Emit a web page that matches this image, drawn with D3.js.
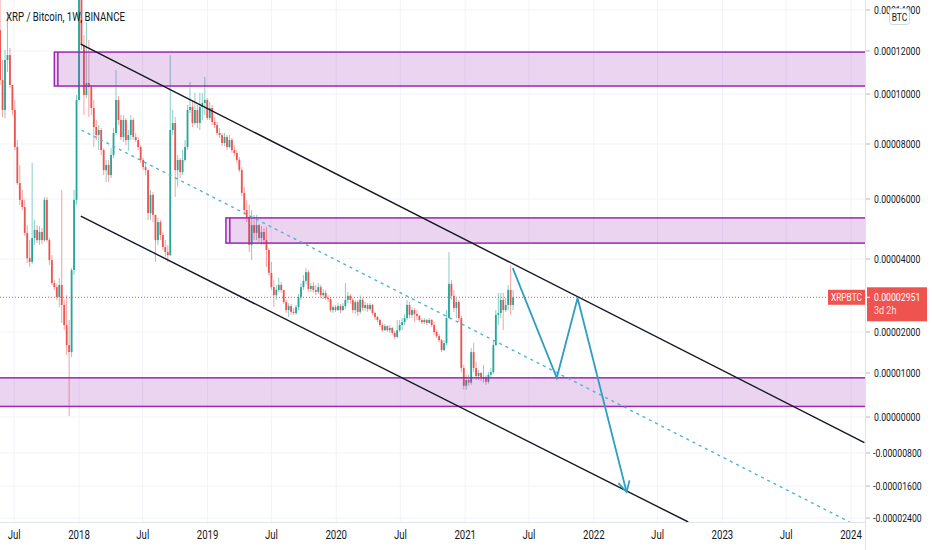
<!DOCTYPE html>
<html>
<head>
<meta charset="utf-8">
<script src="https://cdn.jsdelivr.net/npm/d3@7"></script>
<style>
  body { margin: 0; background: #fff; }
  svg text { font-family: Roboto, "Liberation Sans", sans-serif; }
</style>
</head>
<body>
<div id="chart"></div>
<script>
const W = 932, H = 550, plotR = 865, plotB = 522;

// XRP/BTC weekly candles, prices in satoshi (1e-8 BTC); open = previous close
const firstWeek = "2017-05-22";
const firstOpen = 13020;
const closes = [
  10650, 9360, 11580, 11810, 10420, 9360, 7890, 6580, 5970, 5730,
  4870, 4030, 3920, 4700, 4970, 4630, 4900, 4630, 5970, 4630,
  3970, 3340, 3230, 2960, 3290, 2740, 2190, 1680, 1510, 3700,
  5970, 9760, 15500, 12290, 9960, 10510, 10330, 9440, 8680, 8360,
  8560, 7780, 7050, 7240, 6870, 7600, 8440, 9760, 8960, 8280,
  8960, 8160, 8360, 8960, 8280, 8160, 7890, 7420, 7160, 7050,
  5530, 6150, 5470, 4630, 5230, 4800, 4400, 4230, 4130, 8560,
  8840, 7050, 7420, 6980, 7420, 7890, 9360, 9480, 8840, 9360,
  8840, 9480, 9640, 9760, 9040, 9440, 8880, 8760, 8440, 8360,
  8040, 8280, 7890, 8160, 7780, 7670, 7420, 7050, 6220, 5630,
  5400, 4470, 5130, 4870, 5130, 4700, 4900, 4630, 4300, 3620,
  3230, 3010, 3150, 3290, 3150, 2820, 2600, 2710, 2550, 2520,
  2680, 2960, 3230, 3400, 3640, 3180, 3260, 3150, 3100, 3230,
  3010, 3070, 2930, 2900, 2600, 2680, 2600, 2710, 2600, 2710,
  2880, 2990, 2880, 2600, 2820, 2550, 2880, 2660, 2740, 2630,
  2740, 2520, 2410, 2330, 2190, 2050, 2160, 2050, 2110, 1980,
  1880, 2050, 2190, 2270, 2380, 2740, 2470, 2600, 2490, 2440,
  2330, 2270, 2330, 2250, 2330, 2190, 2000, 1900, 1800, 1560,
  1730, 2380, 3320, 2990, 2660, 2820, 2380, 1120, 710, 840,
  780, 1510, 1120, 930, 1000, 890, 890, 800, 960, 1020,
  1680, 2470, 2520, 2880, 2600, 2740, 3150, 2740, 2951
];
const highs = [
  14490, 11580, 12050, 13850, 12150, 10420, 9760, 8160, 7240, 6330,
  5970, 5130, 4630, 7310, 5300, 5130, 5100, 5030, 6070, 6070,
  4700, 4130, 3420, 3320, 3480, 6330, 2880, 3010, 2330, 3750,
  6330, 9960, 22000, 19000, 12780, 13410, 12540, 10420, 9760, 8960,
  8760, 8640, 7850, 7420, 7420, 7850, 8640, 11120, 9920, 9160,
  9160, 9040, 8560, 9160, 9040, 8440, 8280, 7960, 7490, 7310,
  7050, 6330, 6250, 5300, 5370, 5300, 4900, 4630, 4470, 11810,
  9360, 9080, 7600, 7490, 7780, 8160, 9560, 10560, 9760, 10050,
  9560, 10050, 10050, 10790, 9840, 9680, 9560, 9080, 8880, 8640,
  8440, 8440, 8360, 8360, 8240, 7960, 7780, 7530, 7160, 6440,
  5970, 5800, 5630, 5470, 5470, 5170, 5100, 5030, 5070, 4370,
  3920, 3420, 3290, 3480, 3370, 3150, 2880, 2790, 2770, 2660,
  2740, 3040, 3340, 3560, 3750, 3700, 3340, 3370, 3290, 3340,
  3290, 3180, 3150, 3010, 2960, 2740, 2740, 2790, 2770, 2790,
  3340, 3100, 3040, 2930, 2880, 2880, 3010, 2930, 2820, 2790,
  2790, 2770, 2550, 2440, 2360, 2250, 2220, 2190, 2190, 2140,
  2030, 2330, 2330, 2380, 2490, 2880, 2820, 2680, 2660, 2600,
  2470, 2380, 2380, 2360, 2380, 2360, 2270, 2050, 1950, 1830,
  1800, 2600, 4230, 3420, 3150, 2930, 2880, 2440, 1200, 960,
  960, 1610, 1730, 1270, 1070, 1020, 1200, 960, 1020, 1120,
  1800, 2600, 3070, 3070, 3070, 2930, 3290, 3840, 3150
];
const lows = [
  10420, 9080, 9040, 11020, 10280, 9160, 7780, 6510, 5800, 5630,
  4770, 3890, 3780, 3860, 4470, 4530, 4470, 4500, 4570, 4570,
  3840, 3290, 3150, 2880, 2680, 2250, 2050, 1440, 20, 1390,
  3560, 5800, 9760, 12050, 9160, 9840, 9080, 9160, 7890, 8160,
  7780, 7600, 6870, 6620, 6620, 6760, 7490, 8360, 8760, 8160,
  8080, 7960, 7750, 8160, 8160, 8080, 7780, 7310, 7050, 6870,
  5300, 5300, 5230, 3920, 4470, 4630, 4300, 4070, 3920, 4100,
  8360, 6070, 6440, 6760, 6870, 7350, 7780, 9240, 8680, 8760,
  8640, 8560, 8960, 9160, 8960, 8960, 8760, 8640, 8360, 8240,
  7930, 7930, 7780, 7850, 7670, 7560, 7310, 6980, 6110, 5470,
  5230, 4230, 3970, 4630, 4630, 4570, 4470, 4470, 3780, 3560,
  3150, 2680, 2880, 3100, 3070, 2770, 2520, 2410, 2470, 2470,
  2470, 2600, 2880, 3150, 3320, 3100, 3100, 3070, 3010, 3040,
  2930, 2900, 2880, 2820, 2550, 2520, 2550, 2580, 2520, 2580,
  2630, 2790, 2770, 2520, 2490, 2440, 2490, 2580, 2580, 2550,
  2580, 2470, 2330, 2270, 2140, 2000, 2030, 2000, 1980, 1930,
  1830, 1850, 2000, 2050, 2190, 2330, 2380, 2380, 2270, 2330,
  2270, 2220, 2220, 2190, 2220, 2140, 1930, 1850, 1760, 1510,
  1540, 1680, 2380, 2880, 2550, 2380, 2270, 1020, 620, 620,
  710, 730, 1020, 840, 840, 820, 780, 730, 760, 910,
  980, 1660, 2190, 2380, 2050, 2550, 2600, 2470, 2600
];

// price axis ticks (satoshi) and the scale's screen rows for them
const priceTicks = [14000, 12000, 10000, 8000, 6000, 4000, 2000, 1000, 0, -800, -1600, -2400];
const lastPrice = 2951;
const symbol = "XRPBTC";
const countdown = "3d 2h";
const title = "XRP / Bitcoin, 1W, BINANCE";

// drawings, in [date, satoshi]; edge = second rectangle's left side drawn on top
const zones = [
  { from: "2017-10-23", edge: "2017-11-02", top: 11950, bottom: 10370 },
  { from: "2019-02-22", edge: "2019-03-05", top: 5370, bottom: 4530 },
  { from: "2016-12-01", edge: null, top: 890, bottom: 240 }
];
const channelTop = [["2018-01-06", 12340], ["2024-02-08", -569]];
const channelBottom = [["2018-01-06", 5430], ["2022-09-26", -2500]];
const channelMid = [["2018-01-08", 8560], ["2023-12-28", -2500]];
const forecast = [["2021-05-16", 3750], ["2021-09-18", 890], ["2021-11-16", 2930], ["2022-04-04", -1750]];

const UP = "#26a69a", DOWN = "#ef5350", INK = "#131722";

const svg = d3.select("#chart").append("svg")
  .attr("width", W).attr("height", H)
  .style("display", "block");

const x = d3.scaleUtc()
  .domain([new Date("2018-01-01"), new Date("2024-01-01")])
  .range([79, 851]);
const y = d3.scaleLinear()
  .domain(priceTicks)
  .range([10, 51, 94, 144, 199, 259, 332, 373, 417, 453, 486, 518]);

const pt = d => [x(new Date(d[0])), y(d[1])];

svg.append("clipPath").attr("id", "plot")
  .append("rect").attr("width", plotR).attr("height", plotB);

const plot = svg.append("g").attr("clip-path", "url(#plot)");

// grid
const monthTicks = d3.utcMonth.every(6).range(new Date("2017-07-01"), new Date("2024-01-02"));
plot.append("g").selectAll("line").data(monthTicks).join("line")
  .attr("x1", d => x(d)).attr("x2", d => x(d))
  .attr("y1", 0).attr("y2", plotB)
  .attr("stroke", "#f0f3fa");
plot.append("g").selectAll("line").data(priceTicks).join("line")
  .attr("x1", 0).attr("x2", plotR)
  .attr("y1", d => y(d)).attr("y2", d => y(d))
  .attr("stroke", "#f0f3fa");

// candles
const t0 = new Date(firstWeek + "T00:00:00Z");
const candles = closes.map((c, i) => {
  const o = i === 0 ? firstOpen : closes[i - 1];
  return {
    date: d3.utcDay.offset(t0, 7 * i),
    o, c,
    h: Math.max(highs[i], o, c),
    l: Math.min(lows[i], o, c)
  };
});
const bodyW = 1.8;
const cg = plot.append("g").selectAll("g").data(candles).join("g");
cg.append("line")
  .attr("x1", d => x(d.date)).attr("x2", d => x(d.date))
  .attr("y1", d => y(d.h)).attr("y2", d => y(d.l))
  .attr("stroke", d => d.c >= d.o ? UP : DOWN)
  .attr("stroke-opacity", 0.55)
  .attr("stroke-width", 1);
cg.append("rect")
  .attr("x", d => x(d.date) - bodyW / 2)
  .attr("width", bodyW)
  .attr("y", d => y(Math.max(d.o, d.c)))
  .attr("height", d => Math.max(1, Math.abs(y(d.o) - y(d.c))))
  .attr("fill", d => d.c >= d.o ? UP : DOWN);

// last price dotted line
const py = y(lastPrice);
plot.append("line")
  .attr("x1", 0).attr("x2", 828).attr("y1", py).attr("y2", py)
  .attr("stroke", DOWN).attr("stroke-width", 1)
  .attr("stroke-dasharray", "1 2");

// zones
const zg = plot.append("g");
zg.selectAll("rect").data(zones).join("rect")
  .attr("x", d => x(new Date(d.from)))
  .attr("width", d => plotR + 10 - x(new Date(d.from)))
  .attr("y", d => y(d.top))
  .attr("height", d => y(d.bottom) - y(d.top))
  .attr("fill", "rgba(156,39,176,0.2)")
  .attr("stroke", "#9c27b0")
  .attr("stroke-width", 1.5);
zg.selectAll("line").data(zones.filter(d => d.edge)).join("line")
  .attr("x1", d => x(new Date(d.edge))).attr("x2", d => x(new Date(d.edge)))
  .attr("y1", d => y(d.top)).attr("y2", d => y(d.bottom))
  .attr("stroke", "#9c27b0")
  .attr("stroke-width", 1.5);

// channel
const line = d3.line();
[channelTop, channelBottom].forEach(c => {
  plot.append("path").attr("d", line(c.map(pt)))
    .attr("fill", "none").attr("stroke", "#131722").attr("stroke-width", 1.4);
});
plot.append("path").attr("d", line(channelMid.map(pt)))
  .attr("fill", "none").attr("stroke", "#4fb3d9").attr("stroke-width", 1.4)
  .attr("stroke-dasharray", "3 4");

// forecast path with arrow head
const fp = forecast.map(pt);
plot.append("path").attr("d", line(fp))
  .attr("fill", "none").attr("stroke", "#2e9fc3").attr("stroke-width", 1.8)
  .attr("stroke-linejoin", "miter");
const [a, b] = fp.slice(-2);
const ang = Math.atan2(b[1] - a[1], b[0] - a[0]);
const headLen = 12;
const head = [ang + Math.PI - 0.5, ang + Math.PI + 0.5].map(t => [b[0] + headLen * Math.cos(t), b[1] + headLen * Math.sin(t)]);
plot.append("path").attr("d", line([head[0], b, head[1]]))
  .attr("fill", "none").attr("stroke", "#2e9fc3").attr("stroke-width", 1.8);

// symbol label at end of price line
plot.append("rect").attr("x", 828).attr("y", py - 7.5).attr("width", 37).attr("height", 15)
  .attr("fill", DOWN);
svg.append("text").attr("x", 846.5).attr("y", py + 4).attr("text-anchor", "middle")
  .attr("font-size", 11).attr("fill", "#fff").text(symbol)
  .attr("textLength", 31).attr("lengthAdjust", "spacingAndGlyphs");

// axes frame
svg.append("rect").attr("x", plotR).attr("y", 0).attr("width", W - plotR).attr("height", H).attr("fill", "#fff");
svg.append("rect").attr("x", 0).attr("y", plotB).attr("width", W).attr("height", H - plotB).attr("fill", "#fff");
svg.append("line").attr("x1", plotR + 0.5).attr("x2", plotR + 0.5).attr("y1", 0).attr("y2", H)
  .attr("stroke", "#e0e3eb");
svg.append("line").attr("x1", 0).attr("x2", plotR).attr("y1", plotB + 0.5).attr("y2", plotB + 0.5)
  .attr("stroke", "#e0e3eb");

// narrow the text like the screenshot's condensed face, never wider than maxW
function squeeze(sel, k, maxW) {
  sel.each(function () {
    let n = this.getComputedTextLength() * k;
    if (maxW) n = Math.min(n, maxW);
    d3.select(this).attr("textLength", n).attr("lengthAdjust", "spacingAndGlyphs");
  });
}

// price axis
const fmt = v => (v < 0 ? "-" : "") + (Math.abs(v) * 1e-8).toFixed(8);
const ya = svg.append("g");
ya.selectAll("line").data(priceTicks).join("line")
  .attr("x1", plotR + 1).attr("x2", plotR + 5)
  .attr("y1", d => y(d)).attr("y2", d => y(d))
  .attr("stroke", "#b2b5be");
ya.selectAll("text").data(priceTicks).join("text")
  .attr("x", d => d < 0 ? 873 : 874).attr("y", d => y(d) + 3.5)
  .attr("font-size", 10).attr("fill", INK)
  .text(fmt)
  .call(squeeze, 0.87, 49);

// time axis
const xa = svg.append("g");
xa.selectAll("text").data(monthTicks).join("text")
  .attr("x", d => x(d)).attr("y", 539)
  .attr("text-anchor", "middle")
  .attr("font-size", 12).attr("fill", INK)
  .text(d => d.getUTCMonth() === 0 ? d3.utcFormat("%Y")(d) : d3.utcFormat("%b")(d))
  .call(squeeze, 0.8);

// last price label on axis
svg.append("rect").attr("x", 867).attr("y", py - 10).attr("width", 60).attr("height", 34)
  .attr("fill", DOWN);
svg.append("line").attr("x1", plotR + 1).attr("x2", plotR + 5).attr("y1", py).attr("y2", py)
  .attr("stroke", "#fff");
svg.append("text").attr("x", 874).attr("y", py + 3.5)
  .attr("font-size", 10).attr("fill", "#fff").text(fmt(lastPrice))
  .call(squeeze, 0.87);
svg.append("text").attr("x", 874).attr("y", py + 17)
  .attr("font-size", 10).attr("fill", "#fff").attr("fill-opacity", 0.85).text(countdown)
  .call(squeeze, 0.9);

// currency badge
svg.append("rect").attr("x", 889.5).attr("y", 8.5).attr("width", 20).attr("height", 16).attr("rx", 3)
  .attr("fill", "#fff").attr("stroke", "#d1d4dc");
svg.append("text").attr("x", 899.5).attr("y", 20.5).attr("text-anchor", "middle")
  .attr("font-size", 10).attr("fill", INK).text("BTC")
  .call(squeeze, 0.85);

// title
svg.append("text").attr("x", 6).attr("y", 21)
  .attr("font-size", 13).attr("fill", INK).text(title)
  .attr("textLength", 119).attr("lengthAdjust", "spacingAndGlyphs");
</script>
</body>
</html>
